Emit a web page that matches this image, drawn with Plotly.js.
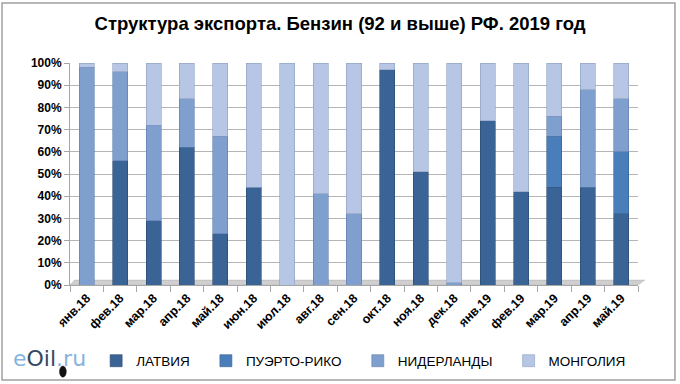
<!DOCTYPE html>
<html>
<head>
<meta charset="utf-8">
<script src="https://cdn.plot.ly/plotly-3.0.1.min.js"></script>
<style>html,body{margin:0;padding:0;background:#fff;}#chart{width:680px;height:384px;}</style>
</head>
<body>
<div id="chart"></div>
<script>
const months = ['янв.18','фев.18','мар.18','апр.18','май.18','июн.18','июл.18','авг.18','сен.18','окт.18','ноя.18','дек.18','янв.19','фев.19','мар.19','апр.19','май.19'];
const seriesNames = ['ЛАТВИЯ','ПУЭРТО-РИКО','НИДЕРЛАНДЫ','МОНГОЛИЯ'];
const latvia      = [0, 56, 29, 62, 23, 44, 0, 0, 0, 97, 51, 0, 74, 42, 44, 44, 32];
const puertoRico  = [0, 0, 0, 0, 0, 0, 0, 0, 0, 0, 0, 0, 0, 0, 23, 0, 28];
const netherlands = [98, 40, 43, 22, 44, 0, 0, 41, 32, 0, 0, 1, 0, 0, 9, 44, 24];
const mongolia    = [2, 4, 28, 16, 33, 56, 100, 59, 68, 3, 49, 99, 26, 58, 24, 12, 16];
const colors = ['#3B6496', '#4A7EBB', '#7F9FCF', '#B7C6E4'];
const lineColors = ['#2B4A70', '#36608F', '#5F7FAD', '#8E9FC0'];
const values = [latvia, puertoRico, netherlands, mongolia];

const pad = '\u00a0\u00a0\u00a0';
const traces = values.map((v, i) => ({
  type: 'bar',
  x: months,
  y: v,
  name: seriesNames[i] + pad,
  marker: {color: colors[i], line: {color: lineColors[i], width: 0.6}},
  hoverinfo: 'x+y+name'
}));

const F = 'Liberation Sans, Arial, sans-serif';
const layout = {
  width: 680, height: 384,
  margin: {l: 70, r: 42, t: 63, b: 99, autoexpand: false},
  paper_bgcolor: '#ffffff', plot_bgcolor: '#ffffff',
  barmode: 'stack',
  bargap: 0.55,
  showlegend: true,
  title: {
    text: 'Структура экспорта. Бензин (92 и выше) РФ. 2019 год',
    font: {family: F, size: 18.5, color: '#000', weight: 'bold'},
    x: 0.5, xref: 'container', y: 0.94, yref: 'container', yanchor: 'middle'
  },
  xaxis: {
    type: 'category',
    tickangle: -45,
    automargin: false,
    tickfont: {family: F, size: 12.5, color: '#000', weight: 'bold'},
    showline: true, linecolor: '#a6a6a6', linewidth: 1,
    ticks: 'outside', tickson: 'boundaries', ticklen: 6, tickcolor: '#a6a6a6',
    showgrid: false, fixedrange: true
  },
  yaxis: {
    range: [0, 100],
    dtick: 10,
    ticksuffix: '%',
    automargin: false,
    tickfont: {family: F, size: 12, color: '#000', weight: 'bold'},
    showgrid: true, gridcolor: '#b5b5b5', gridwidth: 1,
    showline: true, linecolor: '#a6a6a6', linewidth: 1,
    ticks: 'outside', ticklen: 5, tickcolor: '#a6a6a6',
    zeroline: false, fixedrange: true
  },
  legend: {
    orientation: 'h',
    x: 0.046, xanchor: 'left',
    y: -0.342, yanchor: 'middle',
    font: {family: F, size: 13.5, color: '#000'},
    bgcolor: 'rgba(0,0,0,0)',
    traceorder: 'normal'
  },
  shapes: [
    {type: 'rect', xref: 'paper', yref: 'paper', x0: -0.1197, x1: 1.0651, y0: -0.4279, y1: 1.2703,
     line: {color: '#a0a0a0', width: 1.5}, fillcolor: 'rgba(0,0,0,0)', layer: 'below'},
    {type: 'path', xref: 'paper', yref: 'y', path: 'M 0,0 L 1,0 L 1.012,2.2 L 0.008,2.2 Z',
     fillcolor: '#cfcfcf', line: {color: '#b0b0b0', width: 0.5}, layer: 'below'},
    {type: 'circle', xref: 'paper', yref: 'paper', x0: -0.0185, x1: -0.0065, y0: -0.415, y1: -0.365,
     fillcolor: '#111', line: {color: '#111', width: 0.5}}
  ],
  annotations: [
    {xref: 'paper', yref: 'paper', x: -0.104, y: -0.33, xanchor: 'left', yanchor: 'middle',
     showarrow: false,
     text: '<span style="color:#86B4DE">e</span><span style="color:#34495F">Oil</span><span style="color:#86B4DE">.ru</span>',
     font: {family: 'DejaVu Sans, Verdana, sans-serif', size: 22}}
  ]
};

Plotly.newPlot('chart', traces, layout, {displayModeBar: false, staticPlot: true});
</script>
</body>
</html>
